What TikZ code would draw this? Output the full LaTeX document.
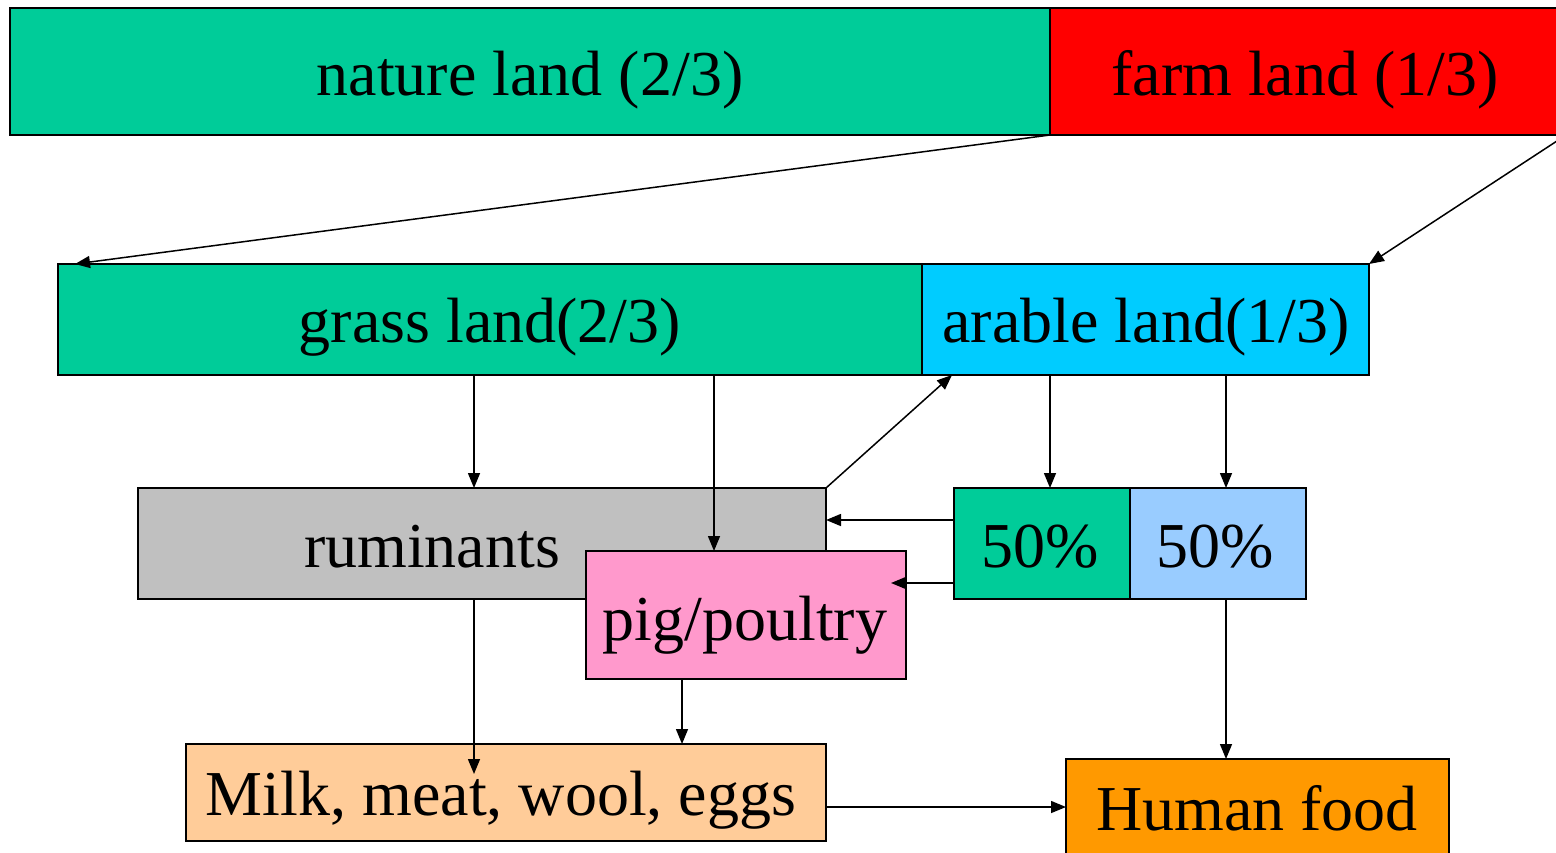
\documentclass[tikz,border=0pt]{standalone}
\usepackage{fontspec}
\setmainfont{Liberation Serif}
\usetikzlibrary{arrows.meta}
\definecolor{cgreen}{HTML}{00CC99}
\definecolor{cred}{HTML}{FF0000}
\definecolor{ccyan}{HTML}{00CCFF}
\definecolor{cgray}{HTML}{C0C0C0}
\definecolor{cpink}{HTML}{FF99CC}
\definecolor{clblue}{HTML}{99CCFF}
\definecolor{cpeach}{HTML}{FFCC99}
\definecolor{corange}{HTML}{FF9900}
\tikzset{
  box/.style={draw=black, line width=1.5pt, anchor=north west, inner sep=0pt, outer sep=0pt},
  lbl/.style={anchor=base, inner sep=0pt, font=\fontsize{64}{76}\selectfont},
  arr/.style={line width=1.5pt, -{Triangle[length=15pt,width=12pt]}}
}
\begin{document}
\begin{tikzpicture}[x=1pt,y=-1pt]
\useasboundingbox (0,0) rectangle (1556,852);
% boxes
\node[box, fill=cgreen, minimum width=1040pt, minimum height=127pt] (nature) at (10,8) {};
\node[box, fill=cred, minimum width=510pt, minimum height=127pt] (farm) at (1050,8) {};
\node[box, fill=cgreen, minimum width=864pt, minimum height=111pt] (grass) at (58,264) {};
\node[box, fill=ccyan, minimum width=447pt, minimum height=111pt] (arable) at (922,264) {};
\node[box, fill=cgray, minimum width=688pt, minimum height=111pt] (rum) at (138,488) {};
\node[box, fill=cpink, minimum width=320pt, minimum height=128pt] (pig) at (586,551) {};
\node[box, fill=cgreen, minimum width=176pt, minimum height=111pt] (g50) at (954,488) {};
\node[box, fill=clblue, minimum width=176pt, minimum height=111pt] (b50) at (1130,488) {};
\node[box, fill=cpeach, minimum width=640pt, minimum height=97pt] (milk) at (186,744) {};
\node[box, fill=corange, minimum width=383pt, minimum height=120pt] (human) at (1066,759) {};
% texts
\node[lbl] (natureT) at (530,95) {nature land (2/3)};
\node[lbl] (farmT) at (1305,95) {farm land (1/3)};
\node[lbl] (grassT) at (490,342) {grass land(2/3)};
\node[lbl] (arableT) at (1146,342) {arable land(1/3)};
\node[lbl] (rumT) at (432,567) {ruminants};
\node[lbl] (g50T) at (1040,567) {50\%};
\node[lbl] (b50T) at (1215,567) {50\%};
\node[lbl] (pigT) at (745,640) {pig/poultry};
\node[lbl] (milkT) at (501,815) {Milk, meat, wool, eggs};
\node[lbl] (humanT) at (1257,830) {Human food};
% connectors
\draw[arr] (nature.south east) -- ([xshift=17pt]grass.north west);
\draw[arr] ([yshift=-4pt]farm.south east) -- (arable.north east);
\draw[arr] ([xshift=416pt]grass.south west) -- ([xshift=336pt]rum.north west);
\draw[arr] ([xshift=656pt]grass.south west) -- ([xshift=128pt]pig.north west);
\draw[arr] (rum.north east) -- ([xshift=30pt]arable.south west);
\draw[arr] ([xshift=128pt]arable.south west) -- ([xshift=96pt]g50.north west);
\draw[arr] ([xshift=304pt]arable.south west) -- ([xshift=96pt]b50.north west);
\draw[arr] ([yshift=-32pt]g50.north west) -- ([yshift=-32pt]rum.north east);
\draw[arr] ([yshift=16pt]g50.south west) -- ([xshift=-15pt,yshift=-32pt]pig.north east);
\draw[arr] ([xshift=336pt]rum.south west) -- ([xshift=288pt,yshift=-30pt]milk.north west);
\draw[arr] ([xshift=96pt]pig.south west) -- ([xshift=496pt]milk.north west);
\draw[arr] ([yshift=34pt]milk.south east) -- ([yshift=-48pt]human.north west);
\draw[arr] ([xshift=96pt]b50.south west) -- ([xshift=160pt]human.north west);
\end{tikzpicture}
\end{document}
